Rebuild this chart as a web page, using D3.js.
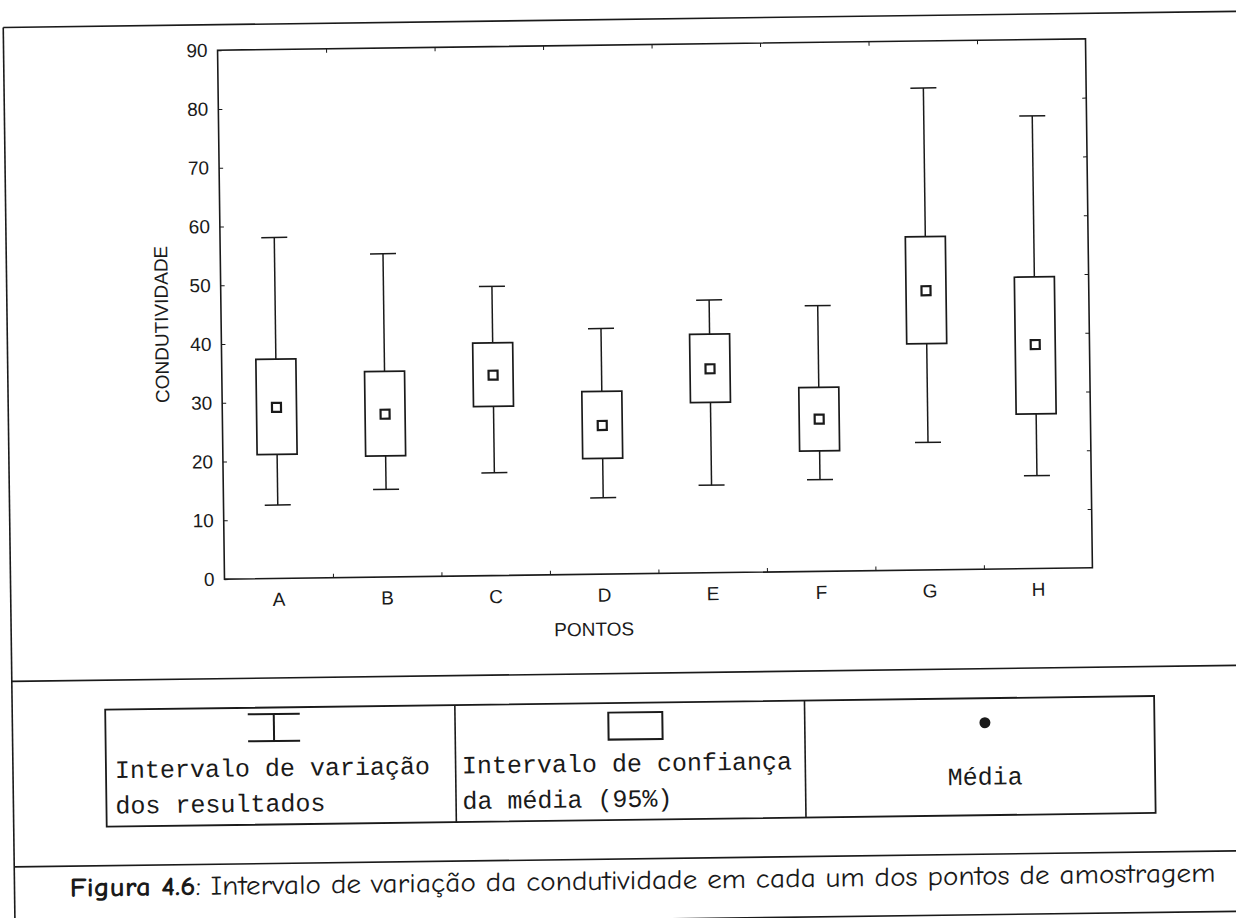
<!DOCTYPE html>
<html>
<head>
<meta charset="utf-8">
<script src="https://cdn.jsdelivr.net/npm/d3@7"></script>
<style>
  body { margin: 0; background: #fff; }
  svg { display: block; }
</style>
</head>
<body>
<div id="chart"></div>
<script>
// pontos de amostragem e valores
const pontos = ["A", "B", "C", "D", "E", "F", "G", "H"];
const minimo = [12.5, 14.9, 17.5, 13.0, 14.9, 15.6, 21.7, 15.8];
const limInf = [21.1, 20.6, 28.8, 19.7, 29.0, 20.5, 38.5, 26.3];
const media  = [29.1, 27.7, 34.1, 25.3, 34.7, 25.9, 47.5, 38.1];
const limSup = [37.3, 35.0, 39.6, 31.1, 40.6, 31.3, 56.7, 49.6];
const maximo = [58.0, 55.0, 49.2, 41.8, 46.4, 45.2, 82.0, 77.0];
const yTicks = [0, 10, 20, 30, 40, 50, 60, 70, 80, 90];

const legendaTextos = [
  ["Intervalo de variação", "dos resultados"],
  ["Intervalo de confiança", "da média (95%)"],
  ["Média"]
];

const W = 1236, H = 918;
const ink = "#1a1a1a";
const plot = {left: 221, right: 1089, top: 44.5, bottom: 573.5};

let data = pontos.map((p, i) => ({
  ponto: p, min: minimo[i], q1: limInf[i], mean: media[i], q3: limSup[i], max: maximo[i]
}));

let svg = d3.select("#chart")
  .append("svg")
  .attr("width", W)
  .attr("height", H);

svg.append("rect").attr("width", W).attr("height", H).attr("fill", "#fff");

// the scanned page is slightly tilted
let page = svg.append("g").attr("transform", "rotate(-0.75, 653, 310)");

// outer frame and separators
let frame = page.append("g").attr("stroke", ink).attr("stroke-width", 1.6);
frame.append("line").attr("x1", 7).attr("x2", 1260).attr("y1", 19).attr("y2", 19);
frame.append("line").attr("x1", 7).attr("x2", 7).attr("y1", 19).attr("y2", 940);
frame.append("line").attr("x1", 7).attr("x2", 1260).attr("y1", 673).attr("y2", 673);
frame.append("line").attr("x1", 7).attr("x2", 1260).attr("y1", 858.5).attr("y2", 858.5);
frame.append("line").attr("x1", 7).attr("x2", 1260).attr("y1", 919).attr("y2", 919);

let x = d3.scaleBand()
  .domain(pontos)
  .range([plot.left, plot.right]);

let xEdges = d3.scaleLinear()
  .domain([0, pontos.length])
  .range([plot.left, plot.right]);

let y = d3.scaleLinear()
  .domain([0, 90])
  .range([plot.bottom, plot.top]);

let chart = page.append("g");

// axes
chart.append("g")
  .attr("transform", `translate(${plot.left},0)`)
  .call(d3.axisLeft(y).tickValues(yTicks).tickSize(-4).tickSizeOuter(0).tickPadding(10))
  .call(g => g.select(".domain").remove())
  .call(g => g.selectAll("text").attr("font-size", 19).attr("font-family", "Liberation Sans, Arial, sans-serif").attr("fill", ink))
  .call(g => g.selectAll("line").attr("stroke", ink));

chart.append("g")
  .attr("transform", `translate(${plot.right},0)`)
  .call(d3.axisRight(y).tickValues(yTicks.slice(1, -1)).tickSize(-4).tickSizeOuter(0).tickFormat(""))
  .call(g => g.select(".domain").remove())
  .call(g => g.selectAll("line").attr("stroke", ink));

chart.append("g")
  .attr("transform", `translate(0,${plot.bottom})`)
  .call(d3.axisBottom(x).tickSize(0).tickPadding(14))
  .call(g => g.select(".domain").remove())
  .call(g => g.selectAll("text").attr("font-size", 19).attr("font-family", "Liberation Sans, Arial, sans-serif").attr("fill", ink));

chart.append("g")
  .attr("transform", `translate(0,${plot.bottom})`)
  .call(d3.axisBottom(xEdges).tickValues(d3.range(1, pontos.length)).tickSize(-4).tickSizeOuter(0).tickFormat(""))
  .call(g => g.select(".domain").remove())
  .call(g => g.selectAll("line").attr("stroke", ink));

chart.append("g")
  .attr("transform", `translate(0,${plot.top})`)
  .call(d3.axisTop(xEdges).tickValues(d3.range(1, pontos.length)).tickSize(-4).tickSizeOuter(0).tickFormat(""))
  .call(g => g.select(".domain").remove())
  .call(g => g.selectAll("line").attr("stroke", ink));

chart.append("rect")
  .attr("x", plot.left)
  .attr("y", plot.top)
  .attr("width", plot.right - plot.left)
  .attr("height", plot.bottom - plot.top)
  .attr("fill", "none")
  .attr("stroke", ink)
  .attr("stroke-width", 1.6);

// axis titles
chart.append("text")
  .attr("transform", `translate(168,318) rotate(-90)`)
  .attr("text-anchor", "middle")
  .attr("font-family", "Liberation Sans, Arial, sans-serif")
  .attr("font-size", 19)
  .attr("fill", ink)
  .text("CONDUTIVIDADE");

chart.append("text")
  .attr("x", 590)
  .attr("y", 635)
  .attr("text-anchor", "middle")
  .attr("font-family", "Liberation Sans, Arial, sans-serif")
  .attr("font-size", 19)
  .attr("fill", ink)
  .text("PONTOS");

// boxes
const boxW = 40, capW = 26, meanS = 9;

let grupos = chart.append("g")
  .attr("stroke", ink)
  .attr("stroke-width", 1.5)
  .selectAll("g")
  .data(data)
  .enter()
  .append("g")
  .attr("transform", d => `translate(${x(d.ponto) + x.bandwidth() / 2},0)`);

grupos.append("line")
  .attr("x1", 0).attr("x2", 0)
  .attr("y1", d => y(d.max)).attr("y2", d => y(d.q3));

grupos.append("line")
  .attr("x1", 0).attr("x2", 0)
  .attr("y1", d => y(d.q1)).attr("y2", d => y(d.min));

grupos.append("line")
  .attr("x1", -capW / 2).attr("x2", capW / 2)
  .attr("y1", d => y(d.max)).attr("y2", d => y(d.max));

grupos.append("line")
  .attr("x1", -capW / 2).attr("x2", capW / 2)
  .attr("y1", d => y(d.min)).attr("y2", d => y(d.min));

grupos.append("rect")
  .attr("x", -boxW / 2)
  .attr("width", boxW)
  .attr("y", d => y(d.q3))
  .attr("height", d => y(d.q1) - y(d.q3))
  .attr("fill", "#fff")
  .attr("stroke-width", 1.7);

grupos.append("rect")
  .attr("x", -meanS / 2)
  .attr("width", meanS)
  .attr("y", d => y(d.mean) - meanS / 2)
  .attr("height", meanS)
  .attr("fill", "#fff")
  .attr("stroke-width", 2.2);

// legend table
const leg = {left: 100, right: 1149, top: 702.5, bottom: 819.5};
let cellW = (leg.right - leg.left) / 3;
let legend = page.append("g");

legend.append("rect")
  .attr("x", leg.left).attr("y", leg.top)
  .attr("width", leg.right - leg.left).attr("height", leg.bottom - leg.top)
  .attr("fill", "none").attr("stroke", ink).attr("stroke-width", 1.8);

[1, 2].forEach(k => {
  legend.append("line")
    .attr("x1", leg.left + k * cellW).attr("x2", leg.left + k * cellW)
    .attr("y1", leg.top).attr("y2", leg.bottom)
    .attr("stroke", ink).attr("stroke-width", 1.6);
});

// range symbol
let ib = legend.append("g").attr("stroke", ink).attr("stroke-width", 2);
ib.append("line").attr("x1", 268.5).attr("x2", 268.5).attr("y1", 709).attr("y2", 736);
ib.append("line").attr("x1", 242.5).attr("x2", 294.5).attr("y1", 709).attr("y2", 709);
ib.append("line").attr("x1", 242.5).attr("x2", 294.5).attr("y1", 736).attr("y2", 736);

// confidence box symbol
legend.append("rect")
  .attr("x", 603).attr("y", 712).attr("width", 54).attr("height", 27)
  .attr("fill", "#fff").attr("stroke", ink).attr("stroke-width", 2);

// mean symbol
legend.append("circle")
  .attr("cx", 979.5).attr("cy", 727).attr("r", 5.5).attr("fill", ink);

const mono = "Liberation Mono, Courier New, monospace";
legendaTextos[0].forEach((t, i) => {
  legend.append("text")
    .attr("x", 109).attr("y", 771 + i * 35.5)
    .attr("font-family", mono).attr("font-size", 25).attr("fill", ink)
    .text(t);
});
legendaTextos[1].forEach((t, i) => {
  legend.append("text")
    .attr("x", 456).attr("y", 771 + i * 35.5)
    .attr("font-family", mono).attr("font-size", 25).attr("fill", ink)
    .text(t);
});
legend.append("text")
  .attr("x", 979).attr("y", 789)
  .attr("text-anchor", "middle")
  .attr("font-family", mono).attr("font-size", 25).attr("fill", ink)
  .text(legendaTextos[2][0]);

// caption
let caption = page.append("text")
  .attr("x", 62)
  .attr("y", 889)
  .attr("font-family", "Comic Sans MS, Comic Neue, Open Sans, sans-serif")
  .attr("font-size", 27)
  .attr("fill", ink)
  .attr("textLength", 1146)
  .attr("lengthAdjust", "spacingAndGlyphs");
caption.append("tspan").attr("font-weight", "bold").text("Figura 4.6");
caption.append("tspan").text(": Intervalo de variação da condutividade em cada um dos pontos de amostragem");
</script>
</body>
</html>
